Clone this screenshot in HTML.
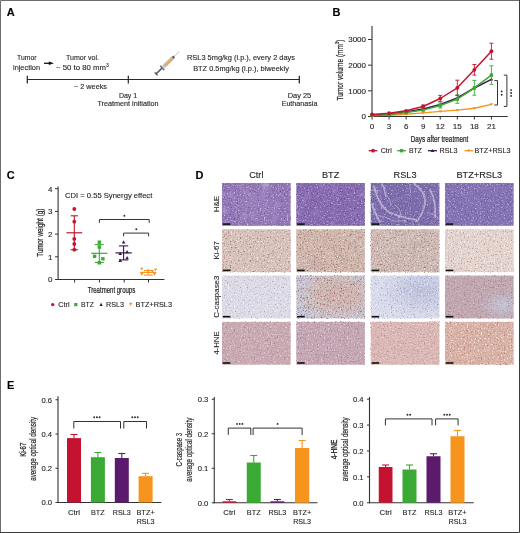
<!DOCTYPE html>
<html><head><meta charset="utf-8"><style>
html,body{margin:0;padding:0;background:#fff;}
svg{display:block;will-change:transform;}
text{font-family:"Liberation Sans",sans-serif;}
</style></head><body>
<svg width="520" height="533" viewBox="0 0 520 533">
<defs>
<filter id="t00" x="0" y="0" width="1" height="1" color-interpolation-filters="sRGB"><feTurbulence type="fractalNoise" baseFrequency="0.7" numOctaves="2" seed="11" result="n0"/><feColorMatrix in="n0" type="matrix" values="0 0 0 0 0.800 0 0 0 0 0.761 0 0 0 0 0.886 3.60 0 0 0 -1.978" result="s0"/><feTurbulence type="fractalNoise" baseFrequency="0.7" numOctaves="2" seed="12" result="n1"/><feColorMatrix in="n1" type="matrix" values="0 0 0 0 0.353 0 0 0 0 0.282 0 0 0 0 0.533 2.80 0 0 0 -1.573" result="s1"/><feTurbulence type="fractalNoise" baseFrequency="0.1" numOctaves="1" seed="13" result="n2"/><feColorMatrix in="n2" type="matrix" values="0 0 0 0 0.722 0 0 0 0 0.675 0 0 0 0 0.831 2.40 0 0 0 -1.333" result="s2"/><feMerge><feMergeNode in="SourceGraphic"/><feMergeNode in="s0"/><feMergeNode in="s1"/><feMergeNode in="s2"/></feMerge><feGaussianBlur stdDeviation="0.5"/></filter><filter id="t01" x="0" y="0" width="1" height="1" color-interpolation-filters="sRGB"><feTurbulence type="fractalNoise" baseFrequency="0.7" numOctaves="2" seed="21" result="n0"/><feColorMatrix in="n0" type="matrix" values="0 0 0 0 0.784 0 0 0 0 0.722 0 0 0 0 0.863 3.60 0 0 0 -2.000" result="s0"/><feTurbulence type="fractalNoise" baseFrequency="0.7" numOctaves="2" seed="22" result="n1"/><feColorMatrix in="n1" type="matrix" values="0 0 0 0 0.322 0 0 0 0 0.251 0 0 0 0 0.541 2.80 0 0 0 -1.556" result="s1"/><feTurbulence type="fractalNoise" baseFrequency="0.1" numOctaves="1" seed="23" result="n2"/><feColorMatrix in="n2" type="matrix" values="0 0 0 0 0.659 0 0 0 0 0.612 0 0 0 0 0.800 2.00 0 0 0 -1.178" result="s2"/><feMerge><feMergeNode in="SourceGraphic"/><feMergeNode in="s0"/><feMergeNode in="s1"/><feMergeNode in="s2"/></feMerge><feGaussianBlur stdDeviation="0.5"/></filter><filter id="t02" x="0" y="0" width="1" height="1" color-interpolation-filters="sRGB"><feTurbulence type="fractalNoise" baseFrequency="0.7" numOctaves="2" seed="31" result="n0"/><feColorMatrix in="n0" type="matrix" values="0 0 0 0 0.769 0 0 0 0 0.722 0 0 0 0 0.863 3.60 0 0 0 -2.000" result="s0"/><feTurbulence type="fractalNoise" baseFrequency="0.7" numOctaves="2" seed="32" result="n1"/><feColorMatrix in="n1" type="matrix" values="0 0 0 0 0.337 0 0 0 0 0.275 0 0 0 0 0.541 2.80 0 0 0 -1.573" result="s1"/><feMerge><feMergeNode in="SourceGraphic"/><feMergeNode in="s0"/><feMergeNode in="s1"/></feMerge><feGaussianBlur stdDeviation="0.5"/></filter><filter id="t03" x="0" y="0" width="1" height="1" color-interpolation-filters="sRGB"><feTurbulence type="fractalNoise" baseFrequency="0.7" numOctaves="2" seed="41" result="n0"/><feColorMatrix in="n0" type="matrix" values="0 0 0 0 0.753 0 0 0 0 0.714 0 0 0 0 0.863 3.60 0 0 0 -2.000" result="s0"/><feTurbulence type="fractalNoise" baseFrequency="0.7" numOctaves="2" seed="42" result="n1"/><feColorMatrix in="n1" type="matrix" values="0 0 0 0 0.337 0 0 0 0 0.275 0 0 0 0 0.549 2.80 0 0 0 -1.573" result="s1"/><feMerge><feMergeNode in="SourceGraphic"/><feMergeNode in="s0"/><feMergeNode in="s1"/></feMerge><feGaussianBlur stdDeviation="0.5"/></filter><filter id="t10" x="0" y="0" width="1" height="1" color-interpolation-filters="sRGB"><feTurbulence type="fractalNoise" baseFrequency="0.7" numOctaves="2" seed="51" result="n0"/><feColorMatrix in="n0" type="matrix" values="0 0 0 0 0.627 0 0 0 0 0.455 0 0 0 0 0.408 3.40 0 0 0 -1.869" result="s0"/><feTurbulence type="fractalNoise" baseFrequency="0.7" numOctaves="2" seed="52" result="n1"/><feColorMatrix in="n1" type="matrix" values="0 0 0 0 0.965 0 0 0 0 0.933 0 0 0 0 0.925 3.60 0 0 0 -1.978" result="s1"/><feMerge><feMergeNode in="SourceGraphic"/><feMergeNode in="s0"/><feMergeNode in="s1"/></feMerge><feGaussianBlur stdDeviation="0.5"/></filter><filter id="t11" x="0" y="0" width="1" height="1" color-interpolation-filters="sRGB"><feTurbulence type="fractalNoise" baseFrequency="0.7" numOctaves="2" seed="61" result="n0"/><feColorMatrix in="n0" type="matrix" values="0 0 0 0 0.596 0 0 0 0 0.416 0 0 0 0 0.369 3.40 0 0 0 -1.839" result="s0"/><feTurbulence type="fractalNoise" baseFrequency="0.7" numOctaves="2" seed="62" result="n1"/><feColorMatrix in="n1" type="matrix" values="0 0 0 0 0.949 0 0 0 0 0.910 0 0 0 0 0.902 3.60 0 0 0 -2.022" result="s1"/><feTurbulence type="fractalNoise" baseFrequency="0.1" numOctaves="1" seed="63" result="n2"/><feColorMatrix in="n2" type="matrix" values="0 0 0 0 0.722 0 0 0 0 0.627 0 0 0 0 0.659 1.60 0 0 0 -0.889" result="s2"/><feMerge><feMergeNode in="SourceGraphic"/><feMergeNode in="s0"/><feMergeNode in="s1"/><feMergeNode in="s2"/></feMerge><feGaussianBlur stdDeviation="0.5"/></filter><filter id="t12" x="0" y="0" width="1" height="1" color-interpolation-filters="sRGB"><feTurbulence type="fractalNoise" baseFrequency="0.7" numOctaves="2" seed="71" result="n0"/><feColorMatrix in="n0" type="matrix" values="0 0 0 0 0.604 0 0 0 0 0.431 0 0 0 0 0.400 3.40 0 0 0 -1.859" result="s0"/><feTurbulence type="fractalNoise" baseFrequency="0.7" numOctaves="2" seed="72" result="n1"/><feColorMatrix in="n1" type="matrix" values="0 0 0 0 0.949 0 0 0 0 0.910 0 0 0 0 0.910 3.60 0 0 0 -2.000" result="s1"/><feTurbulence type="fractalNoise" baseFrequency="0.1" numOctaves="1" seed="73" result="n2"/><feColorMatrix in="n2" type="matrix" values="0 0 0 0 0.659 0 0 0 0 0.596 0 0 0 0 0.690 1.60 0 0 0 -0.914" result="s2"/><feMerge><feMergeNode in="SourceGraphic"/><feMergeNode in="s0"/><feMergeNode in="s1"/><feMergeNode in="s2"/></feMerge><feGaussianBlur stdDeviation="0.5"/></filter><filter id="t13" x="0" y="0" width="1" height="1" color-interpolation-filters="sRGB"><feTurbulence type="fractalNoise" baseFrequency="0.7" numOctaves="2" seed="81" result="n0"/><feColorMatrix in="n0" type="matrix" values="0 0 0 0 0.690 0 0 0 0 0.541 0 0 0 0 0.502 3.20 0 0 0 -1.778" result="s0"/><feTurbulence type="fractalNoise" baseFrequency="0.7" numOctaves="2" seed="82" result="n1"/><feColorMatrix in="n1" type="matrix" values="0 0 0 0 0.984 0 0 0 0 0.965 0 0 0 0 0.957 3.60 0 0 0 -1.947" result="s1"/><feMerge><feMergeNode in="SourceGraphic"/><feMergeNode in="s0"/><feMergeNode in="s1"/></feMerge><feGaussianBlur stdDeviation="0.5"/></filter><filter id="t20" x="0" y="0" width="1" height="1" color-interpolation-filters="sRGB"><feTurbulence type="fractalNoise" baseFrequency="0.7" numOctaves="2" seed="91" result="n0"/><feColorMatrix in="n0" type="matrix" values="0 0 0 0 0.565 0 0 0 0 0.596 0 0 0 0 0.722 3.20 0 0 0 -1.862" result="s0"/><feTurbulence type="fractalNoise" baseFrequency="0.7" numOctaves="2" seed="92" result="n1"/><feColorMatrix in="n1" type="matrix" values="0 0 0 0 0.965 0 0 0 0 0.965 0 0 0 0 0.980 3.60 0 0 0 -2.000" result="s1"/><feMerge><feMergeNode in="SourceGraphic"/><feMergeNode in="s0"/><feMergeNode in="s1"/></feMerge><feGaussianBlur stdDeviation="0.5"/></filter><filter id="t21" x="0" y="0" width="1" height="1" color-interpolation-filters="sRGB"><feTurbulence type="fractalNoise" baseFrequency="0.7" numOctaves="2" seed="102" result="n0"/><feColorMatrix in="n0" type="matrix" values="0 0 0 0 0.369 0 0 0 0 0.251 0 0 0 0 0.282 3.20 0 0 0 -1.910" result="s0"/><feTurbulence type="fractalNoise" baseFrequency="0.7" numOctaves="2" seed="103" result="n1"/><feColorMatrix in="n1" type="matrix" values="0 0 0 0 0.941 0 0 0 0 0.918 0 0 0 0 0.949 3.20 0 0 0 -1.798" result="s1"/><feTurbulence type="fractalNoise" baseFrequency="0.7" numOctaves="2" seed="104" result="n2"/><feColorMatrix in="n2" type="matrix" values="0 0 0 0 0.690 0 0 0 0 0.439 0 0 0 0 0.376 2.80 0 0 0 -1.600" result="s2"/><feMerge><feMergeNode in="SourceGraphic"/><feMergeNode in="s0"/><feMergeNode in="s1"/><feMergeNode in="s2"/></feMerge><feGaussianBlur stdDeviation="0.5"/></filter><filter id="t22" x="0" y="0" width="1" height="1" color-interpolation-filters="sRGB"><feTurbulence type="fractalNoise" baseFrequency="0.7" numOctaves="2" seed="111" result="n0"/><feColorMatrix in="n0" type="matrix" values="0 0 0 0 0.533 0 0 0 0 0.565 0 0 0 0 0.722 3.20 0 0 0 -1.829" result="s0"/><feTurbulence type="fractalNoise" baseFrequency="0.7" numOctaves="2" seed="112" result="n1"/><feColorMatrix in="n1" type="matrix" values="0 0 0 0 0.949 0 0 0 0 0.949 0 0 0 0 0.980 3.40 0 0 0 -1.889" result="s1"/><feMerge><feMergeNode in="SourceGraphic"/><feMergeNode in="s0"/><feMergeNode in="s1"/></feMerge><feGaussianBlur stdDeviation="0.5"/></filter><filter id="t23" x="0" y="0" width="1" height="1" color-interpolation-filters="sRGB"><feTurbulence type="fractalNoise" baseFrequency="0.7" numOctaves="2" seed="121" result="n0"/><feColorMatrix in="n0" type="matrix" values="0 0 0 0 0.596 0 0 0 0 0.439 0 0 0 0 0.502 2.80 0 0 0 -1.556" result="s0"/><feTurbulence type="fractalNoise" baseFrequency="0.7" numOctaves="2" seed="122" result="n1"/><feColorMatrix in="n1" type="matrix" values="0 0 0 0 0.894 0 0 0 0 0.839 0 0 0 0 0.878 2.80 0 0 0 -1.556" result="s1"/><feMerge><feMergeNode in="SourceGraphic"/><feMergeNode in="s0"/><feMergeNode in="s1"/></feMerge><feGaussianBlur stdDeviation="0.5"/></filter><filter id="t30" x="0" y="0" width="1" height="1" color-interpolation-filters="sRGB"><feTurbulence type="fractalNoise" baseFrequency="0.7" numOctaves="2" seed="131" result="n0"/><feColorMatrix in="n0" type="matrix" values="0 0 0 0 0.612 0 0 0 0 0.455 0 0 0 0 0.565 3.00 0 0 0 -1.667" result="s0"/><feTurbulence type="fractalNoise" baseFrequency="0.7" numOctaves="2" seed="132" result="n1"/><feColorMatrix in="n1" type="matrix" values="0 0 0 0 0.925 0 0 0 0 0.863 0 0 0 0 0.902 3.20 0 0 0 -1.778" result="s1"/><feMerge><feMergeNode in="SourceGraphic"/><feMergeNode in="s0"/><feMergeNode in="s1"/></feMerge><feGaussianBlur stdDeviation="0.5"/></filter><filter id="t31" x="0" y="0" width="1" height="1" color-interpolation-filters="sRGB"><feTurbulence type="fractalNoise" baseFrequency="0.7" numOctaves="2" seed="141" result="n0"/><feColorMatrix in="n0" type="matrix" values="0 0 0 0 0.596 0 0 0 0 0.439 0 0 0 0 0.557 3.00 0 0 0 -1.667" result="s0"/><feTurbulence type="fractalNoise" baseFrequency="0.7" numOctaves="2" seed="142" result="n1"/><feColorMatrix in="n1" type="matrix" values="0 0 0 0 0.918 0 0 0 0 0.863 0 0 0 0 0.918 3.20 0 0 0 -1.778" result="s1"/><feMerge><feMergeNode in="SourceGraphic"/><feMergeNode in="s0"/><feMergeNode in="s1"/></feMerge><feGaussianBlur stdDeviation="0.5"/></filter><filter id="t32" x="0" y="0" width="1" height="1" color-interpolation-filters="sRGB"><feTurbulence type="fractalNoise" baseFrequency="0.7" numOctaves="2" seed="151" result="n0"/><feColorMatrix in="n0" type="matrix" values="0 0 0 0 0.667 0 0 0 0 0.502 0 0 0 0 0.518 3.00 0 0 0 -1.667" result="s0"/><feTurbulence type="fractalNoise" baseFrequency="0.7" numOctaves="2" seed="152" result="n1"/><feColorMatrix in="n1" type="matrix" values="0 0 0 0 0.949 0 0 0 0 0.894 0 0 0 0 0.886 3.20 0 0 0 -1.778" result="s1"/><feMerge><feMergeNode in="SourceGraphic"/><feMergeNode in="s0"/><feMergeNode in="s1"/></feMerge><feGaussianBlur stdDeviation="0.5"/></filter><filter id="t33" x="0" y="0" width="1" height="1" color-interpolation-filters="sRGB"><feTurbulence type="fractalNoise" baseFrequency="0.7" numOctaves="2" seed="161" result="n0"/><feColorMatrix in="n0" type="matrix" values="0 0 0 0 0.690 0 0 0 0 0.455 0 0 0 0 0.408 3.20 0 0 0 -1.759" result="s0"/><feTurbulence type="fractalNoise" baseFrequency="0.7" numOctaves="2" seed="162" result="n1"/><feColorMatrix in="n1" type="matrix" values="0 0 0 0 0.973 0 0 0 0 0.941 0 0 0 0 0.918 3.40 0 0 0 -1.869" result="s1"/><feMerge><feMergeNode in="SourceGraphic"/><feMergeNode in="s0"/><feMergeNode in="s1"/></feMerge><feGaussianBlur stdDeviation="0.5"/></filter><filter id="vein" x="-0.1" y="-0.1" width="1.2" height="1.2"><feTurbulence type="fractalNoise" baseFrequency="0.25" numOctaves="1" seed="4"/><feDisplacementMap in="SourceGraphic" scale="2.5" xChannelSelector="R" yChannelSelector="G"/><feGaussianBlur stdDeviation="0.7"/></filter>
<radialGradient id="g00" cx="0.5" cy="0.5" r="0.7"><stop offset="0" stop-color="#9b7fbc"/><stop offset="1" stop-color="#8f71b4"/></radialGradient><radialGradient id="g21" cx="0.6" cy="0.45" r="0.7"><stop offset="0" stop-color="#d2b2ac"/><stop offset="0.45" stop-color="#cebab8"/><stop offset="0.8" stop-color="#c8c6d2"/><stop offset="1" stop-color="#c4cae2"/></radialGradient><radialGradient id="g22" cx="0.75" cy="0.35" r="0.6"><stop offset="0" stop-color="#babed9"/><stop offset="1" stop-color="#dadceb"/></radialGradient><radialGradient id="g23" cx="0.85" cy="0.7" r="0.5"><stop offset="0" stop-color="#c4c7dc"/><stop offset="0.6" stop-color="#c0abb4"/><stop offset="1" stop-color="#c0a7b0"/></radialGradient>
</defs>
<rect x="0" y="0" width="520" height="533" fill="#fff"/>
<text x="6.8" y="15.9" font-size="11" text-anchor="start" fill="#000" font-weight="bold"  stroke="#000" stroke-width="0.12">A</text>
<text x="26.75" y="60" font-size="7.8" text-anchor="middle" fill="#231f20" font-weight="normal" textLength="19.5" lengthAdjust="spacingAndGlyphs"  stroke="#231f20" stroke-width="0.12">Tumor</text>
<text x="26.5" y="69.5" font-size="7.8" text-anchor="middle" fill="#231f20" font-weight="normal" textLength="27" lengthAdjust="spacingAndGlyphs"  stroke="#231f20" stroke-width="0.12">injection</text>
<line x1="44" y1="63.3" x2="50" y2="63.3" stroke="#111" stroke-width="1.3"/>
<path d="M48.8,61.5 L54,63.3 L48.8,65.1 Z" fill="#111"/>
<text x="82.5" y="60" font-size="7.8" text-anchor="middle" fill="#231f20" font-weight="normal" textLength="33" lengthAdjust="spacingAndGlyphs"  stroke="#231f20" stroke-width="0.12">Tumor vol.</text>
<text x="56" y="69.5" font-size="7.8" text-anchor="start" fill="#231f20" font-weight="normal"  stroke="#231f20" stroke-width="0.12">~ 50 to 80 mm<tspan font-size="5" dy="-2.8">3</tspan></text>
<line x1="27" y1="79.5" x2="299.5" y2="79.5" stroke="#2a2a2a" stroke-width="1.2"/>
<line x1="27.3" y1="75.8" x2="27.3" y2="83.4" stroke="#222" stroke-width="1.2"/>
<line x1="128.3" y1="75.8" x2="128.3" y2="83.4" stroke="#222" stroke-width="1.2"/>
<line x1="299.3" y1="75.8" x2="299.3" y2="83.4" stroke="#222" stroke-width="1.2"/>
<text x="90.5" y="88.5" font-size="7.8" text-anchor="middle" fill="#231f20" font-weight="normal" textLength="33" lengthAdjust="spacingAndGlyphs"  stroke="#231f20" stroke-width="0.12">~ 2 weeks</text>
<text x="128" y="97.5" font-size="7.8" text-anchor="middle" fill="#231f20" font-weight="normal" textLength="18.25" lengthAdjust="spacingAndGlyphs"  stroke="#231f20" stroke-width="0.12">Day 1</text>
<text x="128" y="106" font-size="7.8" text-anchor="middle" fill="#231f20" font-weight="normal" textLength="61.25" lengthAdjust="spacingAndGlyphs"  stroke="#231f20" stroke-width="0.12">Treatment initiation</text>
<text x="299.5" y="97.5" font-size="7.8" text-anchor="middle" fill="#231f20" font-weight="normal" textLength="23.5" lengthAdjust="spacingAndGlyphs"  stroke="#231f20" stroke-width="0.12">Day 25</text>
<text x="299.5" y="106" font-size="7.8" text-anchor="middle" fill="#231f20" font-weight="normal" textLength="35.75" lengthAdjust="spacingAndGlyphs"  stroke="#231f20" stroke-width="0.12">Euthanasia</text>
<text x="241" y="59.5" font-size="7.8" text-anchor="middle" fill="#231f20" font-weight="normal" textLength="108" lengthAdjust="spacingAndGlyphs"  stroke="#231f20" stroke-width="0.12">RSL3 5mg/kg (i.p.), every 2 days</text>
<text x="241" y="70.5" font-size="7.8" text-anchor="middle" fill="#231f20" font-weight="normal" textLength="95.75" lengthAdjust="spacingAndGlyphs"  stroke="#231f20" stroke-width="0.12">BTZ 0.5mg/kg (i.p.), biweekly</text>
<g transform="translate(155.8,74.2) rotate(-44)">
<rect x="0.6" y="-0.8" width="8.4" height="1.6" fill="#5a5a5e"/>
<rect x="-0.2" y="-2.1" width="1.3" height="4.2" rx="0.4" fill="#47474c"/>
<rect x="8.3" y="-3" width="1.5" height="6" rx="0.5" fill="#6a6e7a"/>
<rect x="9.8" y="-1.8" width="14.2" height="3.6" fill="#c4c8d4"/>
<rect x="12.4" y="-1.6" width="10.6" height="3.2" fill="#dcac66"/>
<rect x="13" y="-1.5" width="9.5" height="1" fill="#ebc68c" opacity="0.8"/>
<rect x="23.6" y="-1.2" width="1.9" height="2.4" fill="#4e4e54"/>
<rect x="25.5" y="-0.32" width="7.2" height="0.64" fill="#b8b8bc"/>
</g>
<text x="332.5" y="15.75" font-size="11" text-anchor="start" fill="#000" font-weight="bold"  stroke="#000" stroke-width="0.12">B</text>
<line x1="372" y1="26" x2="372" y2="117.0" stroke="#333" stroke-width="1.1"/>
<line x1="371.5" y1="116.5" x2="507.7" y2="116.5" stroke="#333" stroke-width="1.1"/>
<line x1="368" y1="116.5" x2="372" y2="116.5" stroke="#333" stroke-width="1"/>
<text x="366" y="119.2" font-size="8.0" text-anchor="end" fill="#231f20" font-weight="normal"  stroke="#231f20" stroke-width="0.12">0</text>
<line x1="368" y1="90.83" x2="372" y2="90.83" stroke="#333" stroke-width="1"/>
<text x="366" y="93.53" font-size="8.0" text-anchor="end" fill="#231f20" font-weight="normal"  stroke="#231f20" stroke-width="0.12">1000</text>
<line x1="368" y1="65.16" x2="372" y2="65.16" stroke="#333" stroke-width="1"/>
<text x="366" y="67.86" font-size="8.0" text-anchor="end" fill="#231f20" font-weight="normal"  stroke="#231f20" stroke-width="0.12">2000</text>
<line x1="368" y1="39.489999999999995" x2="372" y2="39.489999999999995" stroke="#333" stroke-width="1"/>
<text x="366" y="42.19" font-size="8.0" text-anchor="end" fill="#231f20" font-weight="normal"  stroke="#231f20" stroke-width="0.12">3000</text>
<line x1="372.0" y1="116.5" x2="372.0" y2="119.5" stroke="#333" stroke-width="1"/>
<text x="372.0" y="128.9" font-size="8.0" text-anchor="middle" fill="#231f20" font-weight="normal"  stroke="#231f20" stroke-width="0.12">0</text>
<line x1="389.06" y1="116.5" x2="389.06" y2="119.5" stroke="#333" stroke-width="1"/>
<text x="389.06" y="128.9" font-size="8.0" text-anchor="middle" fill="#231f20" font-weight="normal"  stroke="#231f20" stroke-width="0.12">3</text>
<line x1="406.12" y1="116.5" x2="406.12" y2="119.5" stroke="#333" stroke-width="1"/>
<text x="406.12" y="128.9" font-size="8.0" text-anchor="middle" fill="#231f20" font-weight="normal"  stroke="#231f20" stroke-width="0.12">6</text>
<line x1="423.18" y1="116.5" x2="423.18" y2="119.5" stroke="#333" stroke-width="1"/>
<text x="423.18" y="128.9" font-size="8.0" text-anchor="middle" fill="#231f20" font-weight="normal"  stroke="#231f20" stroke-width="0.12">9</text>
<line x1="440.24" y1="116.5" x2="440.24" y2="119.5" stroke="#333" stroke-width="1"/>
<text x="440.24" y="128.9" font-size="8.0" text-anchor="middle" fill="#231f20" font-weight="normal"  stroke="#231f20" stroke-width="0.12">12</text>
<line x1="457.3" y1="116.5" x2="457.3" y2="119.5" stroke="#333" stroke-width="1"/>
<text x="457.3" y="128.9" font-size="8.0" text-anchor="middle" fill="#231f20" font-weight="normal"  stroke="#231f20" stroke-width="0.12">15</text>
<line x1="474.36" y1="116.5" x2="474.36" y2="119.5" stroke="#333" stroke-width="1"/>
<text x="474.36" y="128.9" font-size="8.0" text-anchor="middle" fill="#231f20" font-weight="normal"  stroke="#231f20" stroke-width="0.12">18</text>
<line x1="491.42" y1="116.5" x2="491.42" y2="119.5" stroke="#333" stroke-width="1"/>
<text x="491.42" y="128.9" font-size="8.0" text-anchor="middle" fill="#231f20" font-weight="normal"  stroke="#231f20" stroke-width="0.12">21</text>
<text x="439.5" y="141.5" font-size="8.5" text-anchor="middle" fill="#231f20" font-weight="normal" textLength="57.6" lengthAdjust="spacingAndGlyphs" stroke="#231f20" stroke-width="0.22">Days after treatment</text>
<text transform="translate(342.6,70) rotate(-90)" font-size="8.7" text-anchor="middle" fill="#231f20" stroke="#231f20" stroke-width="0.22" textLength="61" lengthAdjust="spacingAndGlyphs">Tumor volume (mm<tspan font-size="5.5" dy="-3.2">3</tspan><tspan dy="3.2">)</tspan></text>
<polyline points="372.00,115.60 389.06,115.20 406.12,114.30 423.18,112.90 440.24,111.40 457.30,110.10 474.36,108.20 491.42,104.40" fill="none" stroke="#f7941d" stroke-width="1.45" stroke-linejoin="round"/>
<path d="M370.40,114.39999999999999 L373.60,114.39999999999999 L372.00,117.19999999999999 Z" fill="#f7941d"/>
<path d="M387.46,114.0 L390.66,114.0 L389.06,116.8 Z" fill="#f7941d"/>
<path d="M404.52,113.1 L407.72,113.1 L406.12,115.89999999999999 Z" fill="#f7941d"/>
<path d="M421.58,111.7 L424.78,111.7 L423.18,114.5 Z" fill="#f7941d"/>
<path d="M438.64,110.2 L441.84,110.2 L440.24,113.0 Z" fill="#f7941d"/>
<path d="M455.70,108.89999999999999 L458.90,108.89999999999999 L457.30,111.69999999999999 Z" fill="#f7941d"/>
<path d="M472.76,107.0 L475.96,107.0 L474.36,109.8 Z" fill="#f7941d"/>
<path d="M489.82,103.2 L493.02,103.2 L491.42,106.0 Z" fill="#f7941d"/>
<polyline points="372.00,115.20 389.06,114.20 406.12,112.00 423.18,109.00 440.24,104.50 457.30,98.00 474.36,88.00 491.42,79.30" fill="none" stroke="#3b1a4d" stroke-width="1.45" stroke-linejoin="round"/>
<path d="M370.20,116.5 L373.80,116.5 L372.00,113.4 Z" fill="#3b1a4d"/>
<path d="M387.26,115.5 L390.86,115.5 L389.06,112.4 Z" fill="#3b1a4d"/>
<path d="M404.32,113.3 L407.92,113.3 L406.12,110.2 Z" fill="#3b1a4d"/>
<path d="M421.38,110.3 L424.98,110.3 L423.18,107.2 Z" fill="#3b1a4d"/>
<path d="M438.44,105.8 L442.04,105.8 L440.24,102.7 Z" fill="#3b1a4d"/>
<path d="M455.50,99.3 L459.10,99.3 L457.30,96.2 Z" fill="#3b1a4d"/>
<path d="M472.56,89.3 L476.16,89.3 L474.36,86.2 Z" fill="#3b1a4d"/>
<path d="M489.62,80.6 L493.22,80.6 L491.42,77.5 Z" fill="#3b1a4d"/>
<polyline points="372.00,115.30 389.06,114.50 406.12,112.50 423.18,110.10 440.24,105.50 457.30,99.10 474.36,87.80 491.42,75.10" fill="none" stroke="#3aaa35" stroke-width="1.45" stroke-linejoin="round"/>
<rect x="370.30" y="113.6" width="3.4" height="3.4" fill="#3aaa35"/>
<rect x="387.36" y="112.8" width="3.4" height="3.4" fill="#3aaa35"/>
<rect x="404.42" y="110.8" width="3.4" height="3.4" fill="#3aaa35"/>
<rect x="421.48" y="108.39999999999999" width="3.4" height="3.4" fill="#3aaa35"/>
<line x1="440.24" y1="103.0" x2="440.24" y2="108.0" stroke="#3aaa35" stroke-width="0.9"/>
<line x1="438.24" y1="103.0" x2="442.24" y2="103.0" stroke="#3aaa35" stroke-width="0.9"/>
<line x1="438.24" y1="108.0" x2="442.24" y2="108.0" stroke="#3aaa35" stroke-width="0.9"/>
<rect x="438.54" y="103.8" width="3.4" height="3.4" fill="#3aaa35"/>
<line x1="457.3" y1="94.89999999999999" x2="457.3" y2="103.3" stroke="#3aaa35" stroke-width="0.9"/>
<line x1="455.3" y1="94.89999999999999" x2="459.3" y2="94.89999999999999" stroke="#3aaa35" stroke-width="0.9"/>
<line x1="455.3" y1="103.3" x2="459.3" y2="103.3" stroke="#3aaa35" stroke-width="0.9"/>
<rect x="455.60" y="97.39999999999999" width="3.4" height="3.4" fill="#3aaa35"/>
<line x1="474.36" y1="80.39999999999999" x2="474.36" y2="95.2" stroke="#3aaa35" stroke-width="0.9"/>
<line x1="472.36" y1="80.39999999999999" x2="476.36" y2="80.39999999999999" stroke="#3aaa35" stroke-width="0.9"/>
<line x1="472.36" y1="95.2" x2="476.36" y2="95.2" stroke="#3aaa35" stroke-width="0.9"/>
<rect x="472.66" y="86.1" width="3.4" height="3.4" fill="#3aaa35"/>
<line x1="491.42" y1="65.8" x2="491.42" y2="84.39999999999999" stroke="#3aaa35" stroke-width="0.9"/>
<line x1="489.42" y1="65.8" x2="493.42" y2="65.8" stroke="#3aaa35" stroke-width="0.9"/>
<line x1="489.42" y1="84.39999999999999" x2="493.42" y2="84.39999999999999" stroke="#3aaa35" stroke-width="0.9"/>
<rect x="489.72" y="73.39999999999999" width="3.4" height="3.4" fill="#3aaa35"/>
<polyline points="372.00,114.50 389.06,113.20 406.12,110.80 423.18,106.50 440.24,98.50 457.30,87.80 474.36,69.80 491.42,51.20" fill="none" stroke="#c41230" stroke-width="1.45" stroke-linejoin="round"/>
<circle cx="372.00" cy="114.5" r="1.9" fill="#c41230"/>
<circle cx="389.06" cy="113.2" r="1.9" fill="#c41230"/>
<circle cx="406.12" cy="110.8" r="1.9" fill="#c41230"/>
<line x1="423.18" y1="105.0" x2="423.18" y2="108.0" stroke="#c41230" stroke-width="0.9"/>
<line x1="421.18" y1="105.0" x2="425.18" y2="105.0" stroke="#c41230" stroke-width="0.9"/>
<line x1="421.18" y1="108.0" x2="425.18" y2="108.0" stroke="#c41230" stroke-width="0.9"/>
<circle cx="423.18" cy="106.5" r="1.9" fill="#c41230"/>
<line x1="440.24" y1="95.4" x2="440.24" y2="101.6" stroke="#c41230" stroke-width="0.9"/>
<line x1="438.24" y1="95.4" x2="442.24" y2="95.4" stroke="#c41230" stroke-width="0.9"/>
<line x1="438.24" y1="101.6" x2="442.24" y2="101.6" stroke="#c41230" stroke-width="0.9"/>
<circle cx="440.24" cy="98.5" r="1.9" fill="#c41230"/>
<line x1="457.3" y1="80.2" x2="457.3" y2="95.39999999999999" stroke="#c41230" stroke-width="0.9"/>
<line x1="455.3" y1="80.2" x2="459.3" y2="80.2" stroke="#c41230" stroke-width="0.9"/>
<line x1="455.3" y1="95.39999999999999" x2="459.3" y2="95.39999999999999" stroke="#c41230" stroke-width="0.9"/>
<circle cx="457.30" cy="87.8" r="1.9" fill="#c41230"/>
<line x1="474.36" y1="64.5" x2="474.36" y2="75.1" stroke="#c41230" stroke-width="0.9"/>
<line x1="472.36" y1="64.5" x2="476.36" y2="64.5" stroke="#c41230" stroke-width="0.9"/>
<line x1="472.36" y1="75.1" x2="476.36" y2="75.1" stroke="#c41230" stroke-width="0.9"/>
<circle cx="474.36" cy="69.8" r="1.9" fill="#c41230"/>
<line x1="491.42" y1="43.2" x2="491.42" y2="59.2" stroke="#c41230" stroke-width="0.9"/>
<line x1="489.42" y1="43.2" x2="493.42" y2="43.2" stroke="#c41230" stroke-width="0.9"/>
<line x1="489.42" y1="59.2" x2="493.42" y2="59.2" stroke="#c41230" stroke-width="0.9"/>
<circle cx="491.42" cy="51.2" r="1.9" fill="#c41230"/>
<path d="M494.3,80.6 H497.5 V105 H494.3" fill="none" stroke="#333" stroke-width="1"/>
<path d="M503.8,75.1 H506.9 V106.4 H503.8" fill="none" stroke="#333" stroke-width="1"/>
<circle cx="501.70" cy="91.40" r="0.95" fill="#2a2a2a"/>
<circle cx="501.70" cy="94.70" r="0.95" fill="#2a2a2a"/>
<circle cx="511.10" cy="90.10" r="0.95" fill="#2a2a2a"/>
<circle cx="511.10" cy="93.00" r="0.95" fill="#2a2a2a"/>
<circle cx="511.10" cy="95.90" r="0.95" fill="#2a2a2a"/>
<line x1="368.7" y1="150.7" x2="377.3" y2="150.7" stroke="#c41230" stroke-width="1.3"/>
<circle cx="373.0" cy="150.7" r="1.9" fill="#c41230"/>
<text x="380.8" y="153.1" font-size="7.8" text-anchor="start" fill="#231f20" font-weight="normal" textLength="10.9" lengthAdjust="spacingAndGlyphs"  stroke="#231f20" stroke-width="0.12">Ctrl</text>
<line x1="397.2" y1="150.7" x2="405.9" y2="150.7" stroke="#3aaa35" stroke-width="1.3"/>
<rect x="399.84999999999997" y="149.0" width="3.4" height="3.4" fill="#3aaa35"/>
<text x="409" y="153.1" font-size="7.8" text-anchor="start" fill="#231f20" font-weight="normal" textLength="12.8" lengthAdjust="spacingAndGlyphs"  stroke="#231f20" stroke-width="0.12">BTZ</text>
<line x1="428" y1="150.7" x2="437" y2="150.7" stroke="#3b1a4d" stroke-width="1.3"/>
<path d="M430.7,152.0 L434.3,152.0 L432.5,148.89999999999998 Z" fill="#3b1a4d"/>
<text x="439.6" y="153.1" font-size="7.8" text-anchor="start" fill="#231f20" font-weight="normal" textLength="18" lengthAdjust="spacingAndGlyphs"  stroke="#231f20" stroke-width="0.12">RSL3</text>
<line x1="464.6" y1="150.7" x2="473" y2="150.7" stroke="#f7941d" stroke-width="1.3"/>
<path d="M467.2,149.5 L470.40000000000003,149.5 L468.8,152.29999999999998 Z" fill="#f7941d"/>
<text x="474.5" y="153.1" font-size="7.8" text-anchor="start" fill="#231f20" font-weight="normal" textLength="36" lengthAdjust="spacingAndGlyphs"  stroke="#231f20" stroke-width="0.12">BTZ+RSL3</text>
<text x="6.75" y="179.1" font-size="11" text-anchor="start" fill="#000" font-weight="bold"  stroke="#000" stroke-width="0.12">C</text>
<line x1="58.1" y1="186.6" x2="58.1" y2="280.0" stroke="#333" stroke-width="1.1"/>
<line x1="57.6" y1="279.5" x2="164.4" y2="279.5" stroke="#333" stroke-width="1.1"/>
<line x1="55" y1="279.5" x2="58.1" y2="279.5" stroke="#333" stroke-width="1"/>
<text x="52.4" y="282.3" font-size="8.0" text-anchor="end" fill="#231f20" font-weight="normal"  stroke="#231f20" stroke-width="0.12">0</text>
<line x1="55" y1="256.8" x2="58.1" y2="256.8" stroke="#333" stroke-width="1"/>
<text x="52.4" y="259.6" font-size="8.0" text-anchor="end" fill="#231f20" font-weight="normal"  stroke="#231f20" stroke-width="0.12">1</text>
<line x1="55" y1="234.1" x2="58.1" y2="234.1" stroke="#333" stroke-width="1"/>
<text x="52.4" y="236.9" font-size="8.0" text-anchor="end" fill="#231f20" font-weight="normal"  stroke="#231f20" stroke-width="0.12">2</text>
<line x1="55" y1="211.4" x2="58.1" y2="211.4" stroke="#333" stroke-width="1"/>
<text x="52.4" y="214.20000000000002" font-size="8.0" text-anchor="end" fill="#231f20" font-weight="normal"  stroke="#231f20" stroke-width="0.12">3</text>
<line x1="55" y1="188.7" x2="58.1" y2="188.7" stroke="#333" stroke-width="1"/>
<text x="52.4" y="191.5" font-size="8.0" text-anchor="end" fill="#231f20" font-weight="normal"  stroke="#231f20" stroke-width="0.12">4</text>
<line x1="74.6" y1="279.5" x2="74.6" y2="282.5" stroke="#333" stroke-width="1"/>
<line x1="99.4" y1="279.5" x2="99.4" y2="282.5" stroke="#333" stroke-width="1"/>
<line x1="124.2" y1="279.5" x2="124.2" y2="282.5" stroke="#333" stroke-width="1"/>
<line x1="148.5" y1="279.5" x2="148.5" y2="282.5" stroke="#333" stroke-width="1"/>
<text x="111.5" y="292.9" font-size="8.4" text-anchor="middle" fill="#231f20" font-weight="normal" textLength="47.5" lengthAdjust="spacingAndGlyphs" stroke="#231f20" stroke-width="0.22">Treatment groups</text>
<text transform="translate(42.8,232.6) rotate(-90)" font-size="8.5" text-anchor="middle" fill="#231f20" stroke="#231f20" stroke-width="0.22" textLength="48.2" lengthAdjust="spacingAndGlyphs">Tumor weight (g)</text>
<text x="65" y="198" font-size="7.8" text-anchor="start" fill="#231f20" font-weight="normal" textLength="87.3" lengthAdjust="spacingAndGlyphs"  stroke="#231f20" stroke-width="0.12">CDI = 0.55 Synergy effect</text>
<line x1="66.39999999999999" y1="232.8" x2="82.2" y2="232.8" stroke="#c41230" stroke-width="1.2"/>
<line x1="74.3" y1="215.8" x2="74.3" y2="249.7" stroke="#c41230" stroke-width="1.1"/>
<line x1="70.7" y1="215.8" x2="77.89999999999999" y2="215.8" stroke="#c41230" stroke-width="1.1"/>
<line x1="70.7" y1="249.7" x2="77.89999999999999" y2="249.7" stroke="#c41230" stroke-width="1.1"/>
<circle cx="74.3" cy="209" r="1.9" fill="#c41230"/>
<circle cx="74.3" cy="221.7" r="1.9" fill="#c41230"/>
<circle cx="74.3" cy="238.9" r="1.9" fill="#c41230"/>
<circle cx="74.3" cy="244" r="1.9" fill="#c41230"/>
<circle cx="74.3" cy="249.7" r="1.9" fill="#c41230"/>
<line x1="91.2" y1="253.3" x2="107.39999999999999" y2="253.3" stroke="#3aaa35" stroke-width="1.2"/>
<line x1="99.3" y1="244.6" x2="99.3" y2="262.5" stroke="#3aaa35" stroke-width="1.1"/>
<line x1="94.8" y1="244.6" x2="103.8" y2="244.6" stroke="#3aaa35" stroke-width="1.1"/>
<line x1="94.8" y1="262.5" x2="103.8" y2="262.5" stroke="#3aaa35" stroke-width="1.1"/>
<rect x="97.6" y="240.5" width="3.4" height="3.4" fill="#3aaa35"/>
<rect x="97.6" y="245.4" width="3.4" height="3.4" fill="#3aaa35"/>
<rect x="92.89999999999999" y="254.60000000000002" width="3.4" height="3.4" fill="#3aaa35"/>
<rect x="101.2" y="257.1" width="3.4" height="3.4" fill="#3aaa35"/>
<rect x="97.6" y="261.1" width="3.4" height="3.4" fill="#3aaa35"/>
<line x1="115.39999999999999" y1="252.9" x2="131.79999999999998" y2="252.9" stroke="#3b1a4d" stroke-width="1.2"/>
<line x1="123.6" y1="245.9" x2="123.6" y2="259.9" stroke="#3b1a4d" stroke-width="1.1"/>
<line x1="119.0" y1="245.9" x2="128.2" y2="245.9" stroke="#3b1a4d" stroke-width="1.1"/>
<line x1="119.0" y1="259.9" x2="128.2" y2="259.9" stroke="#3b1a4d" stroke-width="1.1"/>
<path d="M121.8,243.5 L125.39999999999999,243.5 L123.6,240.29999999999998 Z" fill="#3b1a4d"/>
<path d="M125.3,253.3 L128.9,253.3 L127.1,250.1 Z" fill="#3b1a4d"/>
<path d="M118.4,255.0 L122.0,255.0 L120.2,251.79999999999998 Z" fill="#3b1a4d"/>
<path d="M118.4,262.0 L122.0,262.0 L120.2,258.8 Z" fill="#3b1a4d"/>
<path d="M125.3,259.29999999999995 L128.9,259.29999999999995 L127.1,256.09999999999997 Z" fill="#3b1a4d"/>
<line x1="140.14999999999998" y1="272.4" x2="156.25" y2="272.4" stroke="#f7941d" stroke-width="1.2"/>
<line x1="148.2" y1="270.5" x2="148.2" y2="275.1" stroke="#f7941d" stroke-width="1.1"/>
<line x1="143.79999999999998" y1="270.5" x2="152.6" y2="270.5" stroke="#f7941d" stroke-width="1.1"/>
<line x1="143.79999999999998" y1="275.1" x2="152.6" y2="275.1" stroke="#f7941d" stroke-width="1.1"/>
<path d="M140.20000000000002,267.7 L143.4,267.7 L141.8,270.5 Z" fill="#e89a2a"/>
<path d="M140.20000000000002,273.1 L143.4,273.1 L141.8,275.90000000000003 Z" fill="#e89a2a"/>
<path d="M146.6,269.6 L149.79999999999998,269.6 L148.2,272.40000000000003 Z" fill="#e89a2a"/>
<path d="M150.9,270.0 L154.1,270.0 L152.5,272.8 Z" fill="#e89a2a"/>
<path d="M154.0,268.40000000000003 L157.2,268.40000000000003 L155.6,271.20000000000005 Z" fill="#e89a2a"/>
<path d="M152.9,273.0 L156.1,273.0 L154.5,275.8 Z" fill="#e89a2a"/>
<path d="M99.4,222.8 V219.5 H149.2 V222.8" fill="none" stroke="#333" stroke-width="1"/>
<path d="M123.6,236.3 V233.1 H148.6 V236.3" fill="none" stroke="#333" stroke-width="1"/>
<circle cx="124.40" cy="215.80" r="0.95" fill="#2a2a2a"/>
<circle cx="136.30" cy="229.30" r="0.95" fill="#2a2a2a"/>
<circle cx="52.7" cy="304.6" r="1.7" fill="#c41230"/>
<text x="58.3" y="307" font-size="7.8" text-anchor="start" fill="#231f20" font-weight="normal" textLength="11.3" lengthAdjust="spacingAndGlyphs"  stroke="#231f20" stroke-width="0.12">Ctrl</text>
<rect x="74.2" y="303" width="3.2" height="3.2" fill="#3aaa35"/>
<text x="81" y="307" font-size="7.8" text-anchor="start" fill="#231f20" font-weight="normal" textLength="12.8" lengthAdjust="spacingAndGlyphs"  stroke="#231f20" stroke-width="0.12">BTZ</text>
<path d="M99.4,306.1 L102.8,306.1 L101.1,302.8 Z" fill="#3b1a4d"/>
<text x="106" y="307" font-size="7.8" text-anchor="start" fill="#231f20" font-weight="normal" textLength="18" lengthAdjust="spacingAndGlyphs"  stroke="#231f20" stroke-width="0.12">RSL3</text>
<path d="M129,302.8 L132.4,302.8 L130.7,306.1 Z" fill="#f7941d"/>
<text x="135.6" y="307" font-size="7.8" text-anchor="start" fill="#231f20" font-weight="normal" textLength="36.4" lengthAdjust="spacingAndGlyphs"  stroke="#231f20" stroke-width="0.12">BTZ+RSL3</text>
<text x="195.5" y="178.75" font-size="11" text-anchor="start" fill="#000" font-weight="bold"  stroke="#000" stroke-width="0.12">D</text>
<text x="256.3" y="177.7" font-size="9.2" text-anchor="middle" fill="#231f20" font-weight="normal"  stroke="#231f20" stroke-width="0.12">Ctrl</text>
<text x="330.6" y="177.7" font-size="9.2" text-anchor="middle" fill="#231f20" font-weight="normal"  stroke="#231f20" stroke-width="0.12">BTZ</text>
<text x="405.1" y="177.7" font-size="9.2" text-anchor="middle" fill="#231f20" font-weight="normal"  stroke="#231f20" stroke-width="0.12">RSL3</text>
<text x="479.3" y="177.7" font-size="9.2" text-anchor="middle" fill="#231f20" font-weight="normal"  stroke="#231f20" stroke-width="0.12">BTZ+RSL3</text>
<text transform="translate(219.2,204.1) rotate(-90)" font-size="7.9" text-anchor="middle" fill="#231f20" stroke="#231f20" stroke-width="0.1">H&amp;E</text>
<text transform="translate(219.2,250.4) rotate(-90)" font-size="7.9" text-anchor="middle" fill="#231f20" stroke="#231f20" stroke-width="0.1">Ki-67</text>
<text transform="translate(219.2,296.7) rotate(-90)" font-size="7.9" text-anchor="middle" fill="#231f20" stroke="#231f20" stroke-width="0.1">C-caspase3</text>
<text transform="translate(219.2,342.99999999999994) rotate(-90)" font-size="7.9" text-anchor="middle" fill="#231f20" stroke="#231f20" stroke-width="0.1">4-HNE</text>
<rect x="222" y="183" width="68.6" height="42.8" fill="url(#g00)" filter="url(#t00)"/>
<rect x="222.8" y="223.3" width="7.6" height="1.6" fill="#111"/>
<rect x="296.3" y="183" width="68.6" height="42.8" fill="#886ab1" filter="url(#t01)"/>
<rect x="297.1" y="223.3" width="7.6" height="1.6" fill="#111"/>
<rect x="370.8" y="183" width="68.6" height="42.8" fill="#7d6cac" filter="url(#t02)"/>
<g fill="none" stroke="#eeeaf6" stroke-opacity="0.5" stroke-width="1.7" stroke-linecap="round" filter="url(#vein)"><path d="M374,186 C376,195 380,205 387,211 C395,216 405,218 417,220"/><path d="M414,183.5 C420,188 426,195 425,203 C424,210 421,216 417,221"/><path d="M430,190 C434,197 436,207 435,217"/><path d="M372,204 C374,210 376,216 380,222"/><path d="M382,184 C386,188 384,192 386,196"/></g>
<g fill="none" stroke="#eeeaf6" stroke-opacity="0.45" stroke-width="0.9" stroke-linecap="round" filter="url(#vein)"><path d="M371,190 C374,192 377,189 380,191"/><path d="M376,214 C381,218 386,216 391,220 C396,223 402,219 407,222"/><path d="M395,205 C399,208 402,212 400,216"/><path d="M428,212 C432,216 436,214 439,219"/><path d="M410,184 C409,189 412,192 410,196"/><path d="M388,197 C391,200 390,204 393,207"/></g>
<rect x="371.6" y="223.3" width="7.6" height="1.6" fill="#111"/>
<rect x="445" y="183" width="68.6" height="42.8" fill="#8472b4" filter="url(#t03)"/>
<rect x="445.8" y="223.3" width="7.6" height="1.6" fill="#111"/>
<rect x="222" y="229.3" width="68.6" height="42.8" fill="#d7c1bb" filter="url(#t10)"/>
<rect x="222.8" y="269.6" width="7.6" height="1.6" fill="#111"/>
<rect x="296.3" y="229.3" width="68.6" height="42.8" fill="#d0b8ae" filter="url(#t11)"/>
<rect x="297.1" y="269.6" width="7.6" height="1.6" fill="#111"/>
<rect x="370.8" y="229.3" width="68.6" height="42.8" fill="#cfbbb5" filter="url(#t12)"/>
<rect x="371.6" y="269.6" width="7.6" height="1.6" fill="#111"/>
<rect x="445" y="229.3" width="68.6" height="42.8" fill="#e3d3cf" filter="url(#t13)"/>
<rect x="445.8" y="269.6" width="7.6" height="1.6" fill="#111"/>
<rect x="222" y="275.6" width="68.6" height="42.8" fill="#dddae6" filter="url(#t20)"/>
<rect x="222.8" y="315.90000000000003" width="7.6" height="1.6" fill="#111"/>
<rect x="296.3" y="275.6" width="68.6" height="42.8" fill="url(#g21)" filter="url(#t21)"/>
<rect x="297.1" y="315.90000000000003" width="7.6" height="1.6" fill="#111"/>
<rect x="370.8" y="275.6" width="68.6" height="42.8" fill="url(#g22)" filter="url(#t22)"/>
<rect x="371.6" y="315.90000000000003" width="7.6" height="1.6" fill="#111"/>
<rect x="445" y="275.6" width="68.6" height="42.8" fill="url(#g23)" filter="url(#t23)"/>
<rect x="445.8" y="315.90000000000003" width="7.6" height="1.6" fill="#111"/>
<rect x="222" y="321.9" width="68.6" height="42.8" fill="#caaab1" filter="url(#t30)"/>
<rect x="222.8" y="362.2" width="7.6" height="1.6" fill="#111"/>
<rect x="296.3" y="321.9" width="68.6" height="42.8" fill="#c4a7b2" filter="url(#t31)"/>
<rect x="297.1" y="362.2" width="7.6" height="1.6" fill="#111"/>
<rect x="370.8" y="321.9" width="68.6" height="42.8" fill="#dab8b5" filter="url(#t32)"/>
<rect x="371.6" y="362.2" width="7.6" height="1.6" fill="#111"/>
<rect x="445" y="321.9" width="68.6" height="42.8" fill="#d8b2a6" filter="url(#t33)"/>
<rect x="445.8" y="362.2" width="7.6" height="1.6" fill="#111"/>
<text x="7" y="389.25" font-size="11" text-anchor="start" fill="#000" font-weight="bold"  stroke="#000" stroke-width="0.12">E</text>
<line x1="58" y1="396.25" x2="58" y2="503.0" stroke="#333" stroke-width="1.1"/>
<line x1="57.5" y1="502.5" x2="161.3" y2="502.5" stroke="#333" stroke-width="1.1"/>
<line x1="55.5" y1="502.5" x2="58" y2="502.5" stroke="#333" stroke-width="1"/>
<text x="52" y="505.3" font-size="8.0" text-anchor="end" fill="#231f20" font-weight="normal" textLength="10.6" lengthAdjust="spacingAndGlyphs"  stroke="#231f20" stroke-width="0.12">0.0</text>
<line x1="55.5" y1="468.25" x2="58" y2="468.25" stroke="#333" stroke-width="1"/>
<text x="52" y="471.05" font-size="8.0" text-anchor="end" fill="#231f20" font-weight="normal" textLength="10.6" lengthAdjust="spacingAndGlyphs"  stroke="#231f20" stroke-width="0.12">0.2</text>
<line x1="55.5" y1="434.0" x2="58" y2="434.0" stroke="#333" stroke-width="1"/>
<text x="52" y="436.8" font-size="8.0" text-anchor="end" fill="#231f20" font-weight="normal" textLength="10.6" lengthAdjust="spacingAndGlyphs"  stroke="#231f20" stroke-width="0.12">0.4</text>
<line x1="55.5" y1="399.75" x2="58" y2="399.75" stroke="#333" stroke-width="1"/>
<text x="52" y="402.55" font-size="8.0" text-anchor="end" fill="#231f20" font-weight="normal" textLength="10.6" lengthAdjust="spacingAndGlyphs"  stroke="#231f20" stroke-width="0.12">0.6</text>
<rect x="67" y="438.1" width="14" height="64.39999999999998" fill="#c41230"/>
<line x1="74.0" y1="434.5" x2="74.0" y2="438.1" stroke="#c41230" stroke-width="1.1"/>
<line x1="70.5" y1="434.5" x2="77.5" y2="434.5" stroke="#c41230" stroke-width="1.1"/>
<rect x="90.9" y="457.2" width="14.0" height="45.30000000000001" fill="#3aaa35"/>
<line x1="97.9" y1="452.5" x2="97.9" y2="457.2" stroke="#3aaa35" stroke-width="1.1"/>
<line x1="94.4" y1="452.5" x2="101.4" y2="452.5" stroke="#3aaa35" stroke-width="1.1"/>
<rect x="114.8" y="458" width="14.000000000000014" height="44.5" fill="#5b1a6b"/>
<line x1="121.80000000000001" y1="453.5" x2="121.80000000000001" y2="458" stroke="#5b1a6b" stroke-width="1.1"/>
<line x1="118.30000000000001" y1="453.5" x2="125.30000000000001" y2="453.5" stroke="#5b1a6b" stroke-width="1.1"/>
<rect x="138.6" y="476.2" width="14.0" height="26.30000000000001" fill="#f7941d"/>
<line x1="145.6" y1="473.3" x2="145.6" y2="476.2" stroke="#f7941d" stroke-width="1.1"/>
<line x1="142.1" y1="473.3" x2="149.1" y2="473.3" stroke="#f7941d" stroke-width="1.1"/>
<path d="M73.8,428.5 V421.5 H120.5 V428.5" fill="none" stroke="#333" stroke-width="1"/>
<circle cx="94.20" cy="417.30" r="0.95" fill="#2a2a2a"/>
<circle cx="96.90" cy="417.30" r="0.95" fill="#2a2a2a"/>
<circle cx="99.60" cy="417.30" r="0.95" fill="#2a2a2a"/>
<path d="M123.8,428.5 V421.5 H146.5 V428.5" fill="none" stroke="#333" stroke-width="1"/>
<circle cx="132.30" cy="417.30" r="0.95" fill="#2a2a2a"/>
<circle cx="135.00" cy="417.30" r="0.95" fill="#2a2a2a"/>
<circle cx="137.70" cy="417.30" r="0.95" fill="#2a2a2a"/>
<text x="74.0" y="515.1" font-size="7.8" text-anchor="middle" fill="#231f20" font-weight="normal" textLength="12.1" lengthAdjust="spacingAndGlyphs"  stroke="#231f20" stroke-width="0.12">Ctrl</text>
<text x="97.9" y="515.1" font-size="7.8" text-anchor="middle" fill="#231f20" font-weight="normal" textLength="13.8" lengthAdjust="spacingAndGlyphs"  stroke="#231f20" stroke-width="0.12">BTZ</text>
<text x="121.80000000000001" y="515.1" font-size="7.8" text-anchor="middle" fill="#231f20" font-weight="normal" textLength="17.9" lengthAdjust="spacingAndGlyphs"  stroke="#231f20" stroke-width="0.12">RSL3</text>
<text x="145.6" y="515.1" font-size="7.8" text-anchor="middle" fill="#231f20" font-weight="normal" textLength="18.3" lengthAdjust="spacingAndGlyphs"  stroke="#231f20" stroke-width="0.12">BTZ+</text>
<text x="145.6" y="524.1" font-size="7.8" text-anchor="middle" fill="#231f20" font-weight="normal" textLength="17.9" lengthAdjust="spacingAndGlyphs"  stroke="#231f20" stroke-width="0.12">RSL3</text>
<text transform="translate(26,449.75) rotate(-90)" font-size="9" text-anchor="middle" fill="#231f20" stroke="#231f20" stroke-width="0.3" textLength="14" lengthAdjust="spacingAndGlyphs">Ki-67</text>
<text transform="translate(36.3,448.85) rotate(-90)" font-size="9.3" text-anchor="middle" fill="#231f20" stroke="#231f20" stroke-width="0.2" textLength="64" lengthAdjust="spacingAndGlyphs">average optical density</text>
<line x1="214.25" y1="397" x2="214.25" y2="503.25" stroke="#333" stroke-width="1.1"/>
<line x1="213.75" y1="502.75" x2="317.5" y2="502.75" stroke="#333" stroke-width="1.1"/>
<line x1="211.75" y1="502.75" x2="214.25" y2="502.75" stroke="#333" stroke-width="1"/>
<text x="208.25" y="505.55" font-size="8.0" text-anchor="end" fill="#231f20" font-weight="normal" textLength="10.6" lengthAdjust="spacingAndGlyphs"  stroke="#231f20" stroke-width="0.12">0.0</text>
<line x1="211.75" y1="468.25" x2="214.25" y2="468.25" stroke="#333" stroke-width="1"/>
<text x="208.25" y="471.05" font-size="8.0" text-anchor="end" fill="#231f20" font-weight="normal" textLength="10.6" lengthAdjust="spacingAndGlyphs"  stroke="#231f20" stroke-width="0.12">0.1</text>
<line x1="211.75" y1="433.75" x2="214.25" y2="433.75" stroke="#333" stroke-width="1"/>
<text x="208.25" y="436.55" font-size="8.0" text-anchor="end" fill="#231f20" font-weight="normal" textLength="10.6" lengthAdjust="spacingAndGlyphs"  stroke="#231f20" stroke-width="0.12">0.2</text>
<line x1="211.75" y1="399.25" x2="214.25" y2="399.25" stroke="#333" stroke-width="1"/>
<text x="208.25" y="402.05" font-size="8.0" text-anchor="end" fill="#231f20" font-weight="normal" textLength="10.6" lengthAdjust="spacingAndGlyphs"  stroke="#231f20" stroke-width="0.12">0.3</text>
<rect x="222.5" y="501.3" width="13.75" height="1.4499999999999886" fill="#c41230"/>
<line x1="229.375" y1="499.5" x2="229.375" y2="501.3" stroke="#c41230" stroke-width="1.1"/>
<line x1="225.875" y1="499.5" x2="232.875" y2="499.5" stroke="#c41230" stroke-width="1.1"/>
<rect x="246.75" y="462.5" width="14.0" height="40.25" fill="#3aaa35"/>
<line x1="253.75" y1="455.5" x2="253.75" y2="462.5" stroke="#3aaa35" stroke-width="1.1"/>
<line x1="250.25" y1="455.5" x2="257.25" y2="455.5" stroke="#3aaa35" stroke-width="1.1"/>
<rect x="270.5" y="501.3" width="13.75" height="1.4499999999999886" fill="#5b1a6b"/>
<line x1="277.375" y1="499.5" x2="277.375" y2="501.3" stroke="#5b1a6b" stroke-width="1.1"/>
<line x1="273.875" y1="499.5" x2="280.875" y2="499.5" stroke="#5b1a6b" stroke-width="1.1"/>
<rect x="295" y="448" width="14.25" height="54.75" fill="#f7941d"/>
<line x1="302.125" y1="440.5" x2="302.125" y2="448" stroke="#f7941d" stroke-width="1.1"/>
<line x1="298.625" y1="440.5" x2="305.625" y2="440.5" stroke="#f7941d" stroke-width="1.1"/>
<path d="M228.3,434.90000000000003 V428.1 H250.8 V434.90000000000003" fill="none" stroke="#333" stroke-width="1"/>
<circle cx="237.00" cy="423.90" r="0.95" fill="#2a2a2a"/>
<circle cx="239.70" cy="423.90" r="0.95" fill="#2a2a2a"/>
<circle cx="242.40" cy="423.90" r="0.95" fill="#2a2a2a"/>
<path d="M253.1,435.1 V428.1 H302.1 V435.1" fill="none" stroke="#333" stroke-width="1"/>
<circle cx="277.60" cy="423.90" r="0.95" fill="#2a2a2a"/>
<text x="229.375" y="515.1" font-size="7.8" text-anchor="middle" fill="#231f20" font-weight="normal" textLength="12.1" lengthAdjust="spacingAndGlyphs"  stroke="#231f20" stroke-width="0.12">Ctrl</text>
<text x="253.75" y="515.1" font-size="7.8" text-anchor="middle" fill="#231f20" font-weight="normal" textLength="13.8" lengthAdjust="spacingAndGlyphs"  stroke="#231f20" stroke-width="0.12">BTZ</text>
<text x="277.375" y="515.1" font-size="7.8" text-anchor="middle" fill="#231f20" font-weight="normal" textLength="17.9" lengthAdjust="spacingAndGlyphs"  stroke="#231f20" stroke-width="0.12">RSL3</text>
<text x="302.125" y="515.1" font-size="7.8" text-anchor="middle" fill="#231f20" font-weight="normal" textLength="18.3" lengthAdjust="spacingAndGlyphs"  stroke="#231f20" stroke-width="0.12">BTZ+</text>
<text x="302.125" y="524.1" font-size="7.8" text-anchor="middle" fill="#231f20" font-weight="normal" textLength="17.9" lengthAdjust="spacingAndGlyphs"  stroke="#231f20" stroke-width="0.12">RSL3</text>
<text transform="translate(181.6,449.7) rotate(-90)" font-size="8.6" text-anchor="middle" fill="#231f20" stroke="#231f20" stroke-width="0.15" textLength="33.8" lengthAdjust="spacingAndGlyphs">C-caspase 3</text>
<text transform="translate(192.4,449.65) rotate(-90)" font-size="9.3" text-anchor="middle" fill="#231f20" stroke="#231f20" stroke-width="0.2" textLength="64" lengthAdjust="spacingAndGlyphs">average optical density</text>
<line x1="369.5" y1="397" x2="369.5" y2="503.25" stroke="#333" stroke-width="1.1"/>
<line x1="369.0" y1="502.75" x2="473.75" y2="502.75" stroke="#333" stroke-width="1.1"/>
<line x1="367.0" y1="502.75" x2="369.5" y2="502.75" stroke="#333" stroke-width="1"/>
<text x="363.5" y="505.55" font-size="8.0" text-anchor="end" fill="#231f20" font-weight="normal" textLength="10.6" lengthAdjust="spacingAndGlyphs"  stroke="#231f20" stroke-width="0.12">0.0</text>
<line x1="367.0" y1="476.85" x2="369.5" y2="476.85" stroke="#333" stroke-width="1"/>
<text x="363.5" y="479.65000000000003" font-size="8.0" text-anchor="end" fill="#231f20" font-weight="normal" textLength="10.6" lengthAdjust="spacingAndGlyphs"  stroke="#231f20" stroke-width="0.12">0.1</text>
<line x1="367.0" y1="450.95" x2="369.5" y2="450.95" stroke="#333" stroke-width="1"/>
<text x="363.5" y="453.75" font-size="8.0" text-anchor="end" fill="#231f20" font-weight="normal" textLength="10.6" lengthAdjust="spacingAndGlyphs"  stroke="#231f20" stroke-width="0.12">0.2</text>
<line x1="367.0" y1="425.05" x2="369.5" y2="425.05" stroke="#333" stroke-width="1"/>
<text x="363.5" y="427.85" font-size="8.0" text-anchor="end" fill="#231f20" font-weight="normal" textLength="10.6" lengthAdjust="spacingAndGlyphs"  stroke="#231f20" stroke-width="0.12">0.3</text>
<line x1="367.0" y1="399.15" x2="369.5" y2="399.15" stroke="#333" stroke-width="1"/>
<text x="363.5" y="401.95" font-size="8.0" text-anchor="end" fill="#231f20" font-weight="normal" textLength="10.6" lengthAdjust="spacingAndGlyphs"  stroke="#231f20" stroke-width="0.12">0.4</text>
<rect x="378.75" y="467" width="13.75" height="35.75" fill="#c41230"/>
<line x1="385.625" y1="465" x2="385.625" y2="467" stroke="#c41230" stroke-width="1.1"/>
<line x1="382.125" y1="465" x2="389.125" y2="465" stroke="#c41230" stroke-width="1.1"/>
<rect x="402.5" y="469.5" width="14.0" height="33.25" fill="#3aaa35"/>
<line x1="409.5" y1="465" x2="409.5" y2="469.5" stroke="#3aaa35" stroke-width="1.1"/>
<line x1="406.0" y1="465" x2="413.0" y2="465" stroke="#3aaa35" stroke-width="1.1"/>
<rect x="426.5" y="456.25" width="14.0" height="46.5" fill="#5b1a6b"/>
<line x1="433.5" y1="453.75" x2="433.5" y2="456.25" stroke="#5b1a6b" stroke-width="1.1"/>
<line x1="430.0" y1="453.75" x2="437.0" y2="453.75" stroke="#5b1a6b" stroke-width="1.1"/>
<rect x="450.5" y="436.25" width="14.0" height="66.5" fill="#f7941d"/>
<line x1="457.5" y1="430.5" x2="457.5" y2="436.25" stroke="#f7941d" stroke-width="1.1"/>
<line x1="454.0" y1="430.5" x2="461.0" y2="430.5" stroke="#f7941d" stroke-width="1.1"/>
<path d="M385.4,425.4 V418.9 H432 V425.4" fill="none" stroke="#333" stroke-width="1"/>
<circle cx="407.45" cy="414.70" r="0.95" fill="#2a2a2a"/>
<circle cx="410.15" cy="414.70" r="0.95" fill="#2a2a2a"/>
<path d="M435.6,425.4 V418.9 H458.1 V425.4" fill="none" stroke="#333" stroke-width="1"/>
<circle cx="444.30" cy="414.70" r="0.95" fill="#2a2a2a"/>
<circle cx="447.00" cy="414.70" r="0.95" fill="#2a2a2a"/>
<circle cx="449.70" cy="414.70" r="0.95" fill="#2a2a2a"/>
<text x="385.625" y="515.1" font-size="7.8" text-anchor="middle" fill="#231f20" font-weight="normal" textLength="12.1" lengthAdjust="spacingAndGlyphs"  stroke="#231f20" stroke-width="0.12">Ctrl</text>
<text x="409.5" y="515.1" font-size="7.8" text-anchor="middle" fill="#231f20" font-weight="normal" textLength="13.8" lengthAdjust="spacingAndGlyphs"  stroke="#231f20" stroke-width="0.12">BTZ</text>
<text x="433.5" y="515.1" font-size="7.8" text-anchor="middle" fill="#231f20" font-weight="normal" textLength="17.9" lengthAdjust="spacingAndGlyphs"  stroke="#231f20" stroke-width="0.12">RSL3</text>
<text x="457.5" y="515.1" font-size="7.8" text-anchor="middle" fill="#231f20" font-weight="normal" textLength="18.3" lengthAdjust="spacingAndGlyphs"  stroke="#231f20" stroke-width="0.12">BTZ+</text>
<text x="457.5" y="524.1" font-size="7.8" text-anchor="middle" fill="#231f20" font-weight="normal" textLength="17.9" lengthAdjust="spacingAndGlyphs"  stroke="#231f20" stroke-width="0.12">RSL3</text>
<text transform="translate(337.3,449.5) rotate(-90)" font-size="8.2" text-anchor="middle" fill="#231f20" stroke="#231f20" stroke-width="0.3" textLength="19.7" lengthAdjust="spacingAndGlyphs">4-HNE</text>
<text transform="translate(347.8,449.25) rotate(-90)" font-size="9.3" text-anchor="middle" fill="#231f20" stroke="#231f20" stroke-width="0.2" textLength="64" lengthAdjust="spacingAndGlyphs">average optical density</text>
<path d="M0.5,533 V0.5 H520" fill="none" stroke="#6c6c6c" stroke-width="1"/><path d="M519.5,0 V532.5 H0" fill="none" stroke="#3c3c3c" stroke-width="1"/>
</svg>
</body></html>
